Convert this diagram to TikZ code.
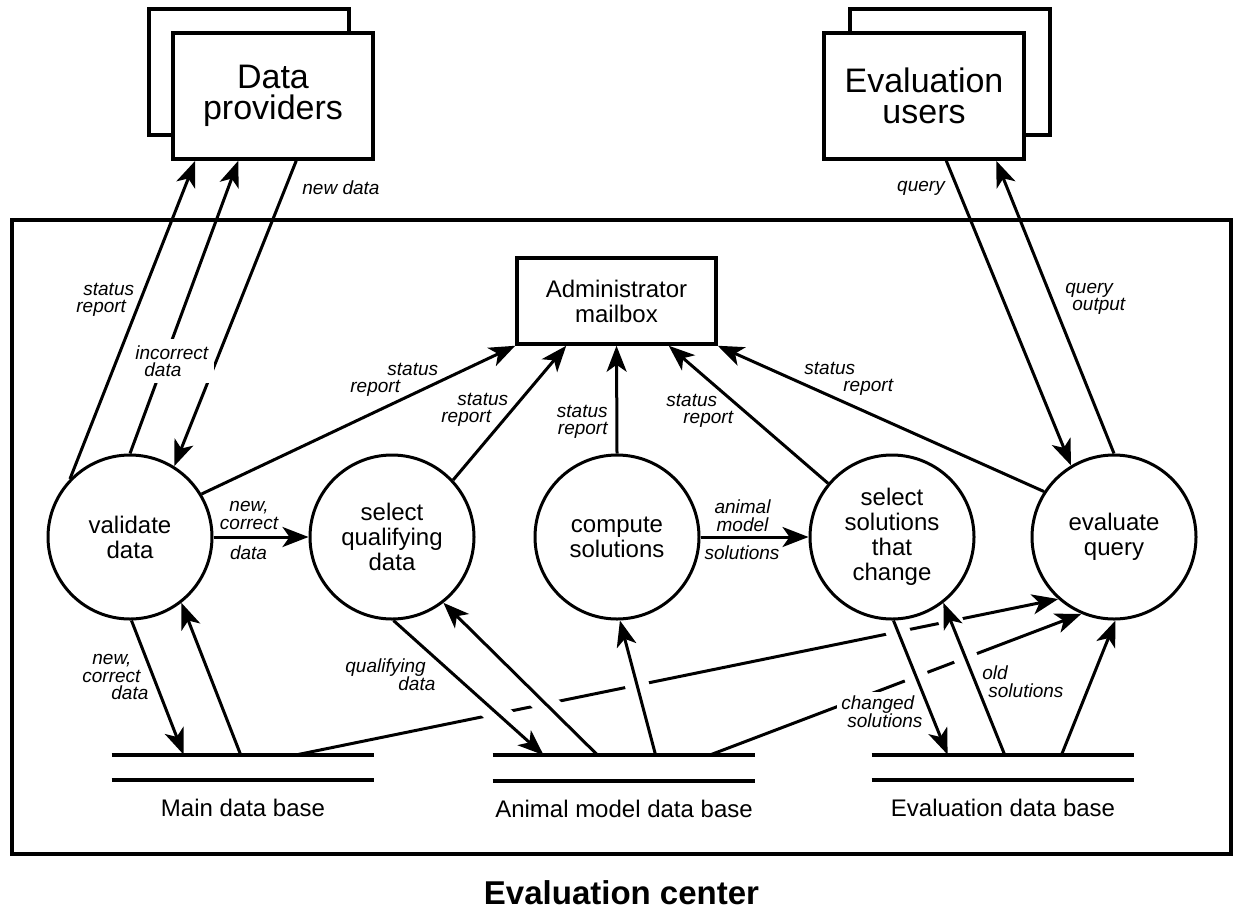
\documentclass[tikz,border=0pt]{standalone}
\usepackage{fontspec}
\setmainfont{Liberation Sans}
\usetikzlibrary{arrows.meta, calc, shadows}
\setlength{\lineskiplimit}{-5pt}

\pgfdeclarelayer{under}
\pgfsetlayers{under,main}

\begin{document}
\begin{tikzpicture}[x=0.5pt, y=-0.5pt, >={Stealth[length=13pt, width=10pt, inset=3.5pt]},
    proc/.style={draw, circle, line width=1.5pt, fill=white, minimum size=82pt, inner sep=0pt, align=center, font=\fontsize{12}{12.5}\selectfont},
    agent/.style={draw, line width=1.75pt, fill=white, minimum width=100pt, minimum height=63pt, align=center, font=\fontsize{17}{15.5}\selectfont},
    store/.style={minimum width=131pt, minimum height=12.5pt, inner sep=0pt},
    flow/.style={->, line width=1.5pt},
    gap/.style={draw=white, line width=12pt},
    lbl/.style={font=\fontsize{9.5}{8.75}\selectfont\itshape, inner sep=1pt, align=left}]
  \useasboundingbox (0,0) rectangle (1236,911);

  % Evaluation center
  \node[draw, line width=2pt, minimum width=609.5pt, minimum height=317pt] (ctr) at (621.5,537) {};
  \node[font=\fontsize{16.5}{18}\selectfont\bfseries] (title) at ($(ctr.south)+(0,37)$) {Evaluation center};

  % external entities
  \node[agent, copy shadow={shadow xshift=-12pt, shadow yshift=12pt, draw=black, fill=white, line width=1.75pt}] (prov) at (273,96) {Data\\providers};
  \node[agent, copy shadow={shadow xshift=13pt, shadow yshift=12pt, draw=black, fill=white, line width=1.75pt}] (users) at (924,96) {Evaluation\\users};
  \node[draw, line width=1.75pt, minimum width=99.5pt, minimum height=43pt, align=center, font=\fontsize{12}{12.5}\selectfont] (mail) at (616.5,301) {Administrator\\mailbox};

  % processes
  \node[proc] (vd) at (130,537) {validate\\data};
  \node[proc] (sq) at (392,537) {select\\qualifying\\data};
  \node[proc] (cs) at (617,537) {compute\\solutions};
  \node[proc] (sc) at (892,537) {select\\solutions\\that\\change};
  \node[proc] (eq) at (1114,537) {evaluate\\query};

  % data bases
  \node[store] (mdb) at (243,767.5) {};
  \node[store] (adb) at (624,768) {};
  \node[store] (edb) at (1003,767.5) {};
  \foreach \db/\dbtext in {mdb/Main data base, adb/Animal model data base, edb/Evaluation data base} {
    \draw[line width=2pt] (\db.north west) -- (\db.north east) (\db.south west) -- (\db.south east);
    \node[font=\fontsize{12}{12.5}\selectfont] (\db-l) at ($(\db.south)+(0,28)$) {\dbtext};
  }

  % where the flows meet boxes and data bases
  \coordinate (p1) at ($(prov.south west)+(24,0)$);
  \coordinate (p2) at ($(prov.south west)+(67,0)$);
  \coordinate (p3) at ($(prov.south west)+(125,0)$);
  \coordinate (u1) at ($(users.south west)+(124,0)$);
  \coordinate (u2) at ($(users.south west)+(174,0)$);
  \coordinate (k1) at ($(mail.south west)+(51,0)$);
  \coordinate (k2) at ($(mail.south east)+(-49,0)$);
  \coordinate (m1) at ($(mdb.north west)+(72,0)$);
  \coordinate (m2) at ($(mdb.north west)+(129,0)$);
  \coordinate (m3) at ($(mdb.north west)+(186,0)$);
  \coordinate (a1) at ($(adb.north west)+(51,0)$);
  \coordinate (a2) at ($(adb.north west)+(105,0)$);
  \coordinate (a3) at ($(adb.north west)+(163,0)$);
  \coordinate (a4) at ($(adb.north west)+(217,0)$);
  \coordinate (e1) at ($(edb.north west)+(76,0)$);
  \coordinate (e2) at ($(edb.north west)+(133,0)$);
  \coordinate (e3) at ($(edb.north west)+(190,0)$);

  % long flows to evaluate query, broken where others cross them
  \begin{pgfonlayer}{under}
    \draw[flow] (m3) -- (eq.228);
    \draw[flow] (a4) -- (eq.247);
    \foreach \src/\dst in {sq.-89/a1, a2/sq.-52, a3/cs.-88, sc.-89/e1, e2/sc.-52}
      \draw[gap] (\src) -- (\dst);
    \node[lbl, fill=white, inner sep=2pt, anchor=west] (lch) at (837,711.5) {changed\\\hspace*{3pt}solutions};
  \end{pgfonlayer}

  % data providers
  \draw[flow] (vd.136) -- (p1);
  \draw[flow] (vd.90) -- (p2);
  \draw[flow] (p3) -- (vd.58);
  % status reports
  \draw[flow] (vd.31) -- (mail.south west);
  \draw[flow] (sq.43) -- (k1);
  \draw[flow] (cs.north) -- (mail.south);
  \draw[flow] (sc.140) -- (k2);
  \draw[flow] (eq.147) -- (mail.south east);
  % process to process
  \draw[flow] (vd.east) -- (sq.west);
  \draw[flow] (cs.east) -- (sc.west);
  % evaluation users
  \draw[flow] (u1) -- (eq.121);
  \draw[flow] (eq.north) -- (u2);
  % data bases
  \draw[flow] (vd.-89) -- (m1);
  \draw[flow] (m2) -- (vd.-52);
  \draw[flow] (sq.-89) -- (a1);
  \draw[flow] (a2) -- (sq.-52);
  \draw[flow] (a3) -- (cs.-88);
  \draw[flow] (sc.-89) -- (e1);
  \draw[flow] (e2) -- (sc.-52);
  \draw[flow] (e3) -- (eq.-89);

  % labels
  \node[lbl, anchor=west] (lsr1) at (74,300) {\hspace*{3.5pt}status\\report};
  \node[lbl, fill=white, inner sep=3pt, anchor=west] (linc) at (129,361) {incorrect\\\hspace*{4.5pt}data};
  \node[lbl, anchor=west] (lnew) at (300,188) {new data};
  \node[lbl, align=center] (lnc1) at (249,515.5) {new,\\correct};
  \node[lbl] (lnc2) at (248.5,553) {data};
  \node[lbl, anchor=west] (lsr2) at (348,380) {\hspace*{18.5pt}status\\report};
  \node[lbl, anchor=west] (lsr3) at (439,410) {\hspace*{8pt}status\\report};
  \node[lbl, align=right, anchor=east] (lsr4) at (610,422) {status\\report};
  \node[lbl, anchor=west] (lsr5) at (664,411) {status\\\hspace*{8.5pt}report};
  \node[lbl, anchor=west] (lsr6) at (802,379) {status\\\hspace*{19.5pt}report};
  \node[lbl] (lq) at (921,188) {query};
  \node[lbl, anchor=west] (lqo) at (1063,299) {query\\\hspace*{3.5pt}output};
  \node[lbl, align=center] (lam1) at (742.5,515.5) {animal\\model};
  \node[lbl] (lam2) at (742,553) {solutions};
  \node[lbl, anchor=west] (lncd) at (80,677) {\hspace*{5pt}new,\\correct\\\hspace*{14.5pt}data};
  \node[lbl, anchor=west] (lqd) at (343,674.5) {qualifying\\\hspace*{26.5pt}data};
  \node[lbl, anchor=west] (lold) at (980,681.5) {old\\\hspace*{3pt}solutions};
\end{tikzpicture}
\end{document}
